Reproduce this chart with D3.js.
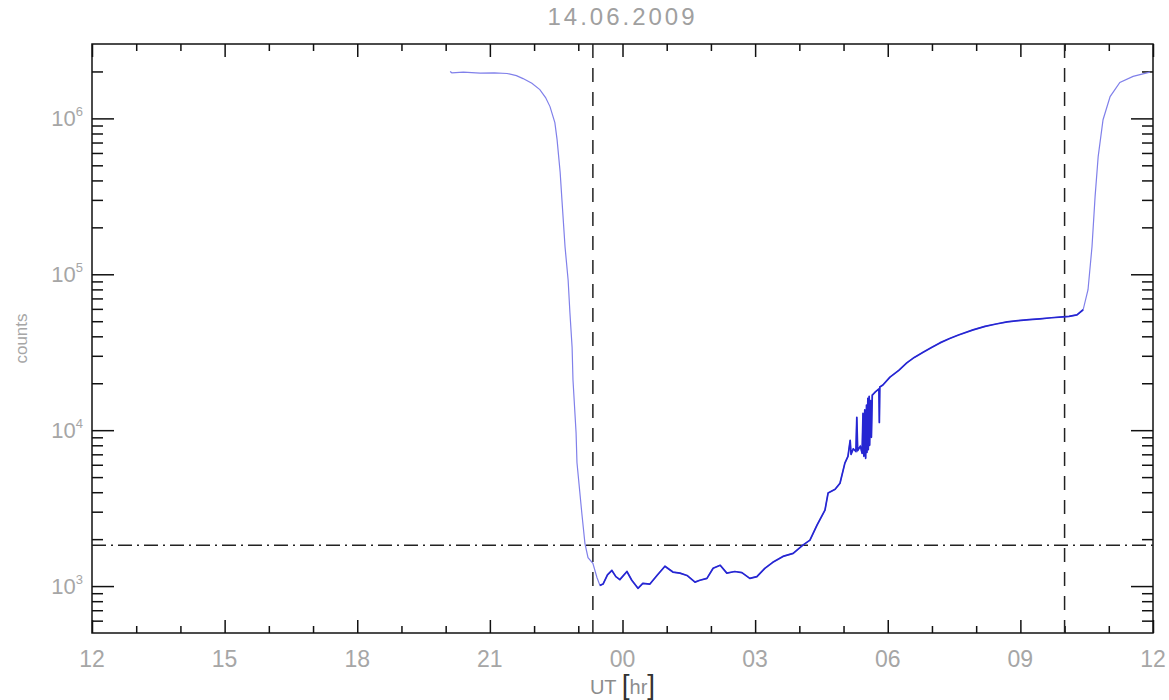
<!DOCTYPE html>
<html>
<head>
<meta charset="utf-8">
<script src="https://cdn.jsdelivr.net/npm/d3@7"></script>
<style>
  body { margin: 0; background: #fff; }
  text { font-family: "Liberation Sans", Arial, sans-serif; }
</style>
</head>
<body>
<div id="chart"></div>
<script>
// hours since 00:00 on 14.06 (values > 24 are next day)
var hours = [
    20.10, 20.14, 20.40, 20.78, 21.10, 21.39, 21.60, 21.75, 21.95, 22.13, 22.26, 22.36, 22.47, 22.52,
    22.59, 22.63, 22.70, 22.77, 22.81, 22.86, 22.88, 22.95, 22.97, 23.08, 23.15, 23.22, 23.33, 23.42,
    23.49, 23.56, 23.66, 23.76, 23.85, 23.94, 24.10, 24.21, 24.35, 24.46, 24.62, 24.78, 24.96, 25.14,
    25.30, 25.46, 25.64, 25.75, 25.91, 26.05, 26.21, 26.36, 26.54, 26.70, 26.88, 27.04, 27.22, 27.40,
    27.63, 27.86, 28.08, 28.24, 28.40, 28.58, 28.65, 28.81, 28.92, 29.03, 29.10, 29.15, 29.17, 29.22,
    29.28, 29.30, 29.32, 29.38, 29.42, 29.44, 29.46, 29.48, 29.50, 29.52, 29.53, 29.55, 29.56, 29.58,
    29.59, 29.61, 29.63, 29.65, 29.67, 29.72, 29.78, 29.80, 29.81, 29.82, 29.89, 30.05, 30.25, 30.43,
    30.60, 30.80, 31.00, 31.18, 31.40, 31.60, 31.93, 32.20, 32.45, 32.70, 32.95, 33.20, 33.44, 33.70,
    33.96, 34.10, 34.28, 34.42, 34.53, 34.62, 34.69, 34.76, 34.87, 35.03, 35.25, 35.55, 35.93
];
var counts = [
    2.00e6, 1.96e6, 1.98e6, 1.95e6, 1.96e6, 1.94e6, 1.88e6, 1.80e6, 1.68e6, 1.53e6, 1.36e6, 1.19e6, 9.4e5, 7.3e5,
    4.5e5, 3.0e5, 1.5e5, 9.2e4, 5.7e4, 3.4e4, 2.1e4, 9.6e3, 6.2e3, 2.93e3, 1.88e3, 1.52e3, 1.40e3, 1.14e3,
    1.01e3, 1.03e3, 1.18e3, 1.26e3, 1.15e3, 1.10e3, 1.24e3, 1.09e3, 967, 1.04e3, 1.03e3, 1.17e3, 1.34e3, 1.23e3,
    1.21e3, 1.17e3, 1.06e3, 1.09e3, 1.12e3, 1.30e3, 1.36e3, 1.21e3, 1.24e3, 1.22e3, 1.12e3, 1.15e3, 1.30e3, 1.42e3,
    1.55e3, 1.62e3, 1.83e3, 1.97e3, 2.46e3, 3.07e3, 3.95e3, 4.18e3, 4.57e3, 6.15e3, 6.80e3, 8.60e3, 7.00e3, 7.60e3,
    7.30e3, 1.21e4, 7.40e3, 7.90e3, 7.10e3, 1.28e4, 6.80e3, 1.35e4, 6.60e3, 1.45e4, 7.20e3, 1.60e4, 7.50e3, 1.65e4,
    8.00e3, 1.55e4, 9.00e3, 1.68e4, 1.70e4, 1.76e4, 1.82e4, 1.84e4, 1.12e4, 1.89e4, 1.95e4, 2.19e4, 2.42e4, 2.70e4,
    2.93e4, 3.16e4, 3.40e4, 3.63e4, 3.87e4, 4.08e4, 4.40e4, 4.63e4, 4.80e4, 4.95e4, 5.04e4, 5.12e4, 5.18e4, 5.26e4,
    5.33e4, 5.37e4, 5.49e4, 5.92e4, 7.96e4, 1.50e5, 3.15e5, 5.69e5, 9.8e5, 1.38e6, 1.70e6, 1.86e6, 1.98e6
];

var xTicksMajor = [12, 15, 18, 21, 24, 27, 30, 33, 36];
var xTickLabels = ["12", "15", "18", "21", "00", "03", "06", "09", "12"];
var yTicksMajor = [1e3, 1e4, 1e5, 1e6];
var yTickExp = ["3", "4", "5", "6"];
var thresholdCounts = 1830;      // dash-dot level
var markerHours = [23.33, 34.0];  // dashed verticals
var denseRange = [23.45, 34.45];  // part drawn darker/thicker

var options = {
    outerWidth: 1169, outerHeight: 700,
    margin: {left: 92, top: 44, right: 16, bottom: 67}
};
options.width = options.outerWidth - options.margin.left - options.margin.right;
options.height = options.outerHeight - options.margin.top - options.margin.bottom;

var svg = d3.select("#chart")
    .append("svg")
    .attr("width", options.outerWidth)
    .attr("height", options.outerHeight);

var g = svg.append("g")
    .attr("transform", "translate(" + options.margin.left + "," + options.margin.top + ")");

var x = d3.scaleLinear().domain([12, 36]).range([0, options.width]);
var y = d3.scaleLog().domain([500, 3e6]).range([options.height, 0]);

//minor ticks
var xTicksMinor = d3.range(12, 37, 1).filter(h => h % 3 !== 0);
var yTicksMinor = [];
[100, 1e3, 1e4, 1e5, 1e6].forEach(function (dec) {
    for (var k = 2; k <= 9; k++) {
        var v = k * dec;
        if (v > 500 && v < 3e6 && yTicksMajor.indexOf(v) < 0) yTicksMinor.push(v);
    }
});

function tickAxis(axis, tx, ty) {
    var a = g.append("g").attr("transform", "translate(" + tx + "," + ty + ")").call(axis);
    a.select(".domain").remove();
    a.selectAll("line").attr("stroke", "#111").attr("stroke-width", 1.5);
    a.selectAll("text").remove();
}

// ticks point inward on all four sides
tickAxis(d3.axisBottom(x).tickValues(xTicksMajor).tickSize(-13), 0, options.height);
tickAxis(d3.axisBottom(x).tickValues(xTicksMinor).tickSize(-7), 0, options.height);
tickAxis(d3.axisTop(x).tickValues(xTicksMajor).tickSize(-13), 0, 0);
tickAxis(d3.axisTop(x).tickValues(xTicksMinor).tickSize(-7), 0, 0);
tickAxis(d3.axisLeft(y).tickValues(yTicksMajor).tickSize(-22), 0, 0);
tickAxis(d3.axisLeft(y).tickValues(yTicksMinor).tickSize(-11), 0, 0);
tickAxis(d3.axisRight(y).tickValues(yTicksMajor).tickSize(-22), options.width, 0);
tickAxis(d3.axisRight(y).tickValues(yTicksMinor).tickSize(-11), options.width, 0);

// frame
g.append("rect")
    .attr("width", options.width)
    .attr("height", options.height)
    .attr("fill", "none")
    .attr("stroke", "#111")
    .attr("stroke-width", 1.5);

// reference lines
g.append("line")
    .attr("x1", 0).attr("x2", options.width)
    .attr("y1", y(thresholdCounts)).attr("y2", y(thresholdCounts))
    .attr("stroke", "#222").attr("stroke-width", 1.5)
    .attr("stroke-dasharray", "14,5,2,5");

g.selectAll(".marker")
    .data(markerHours)
    .enter().append("line")
    .attr("class", "marker")
    .attr("x1", d => x(d)).attr("x2", d => x(d))
    .attr("y1", 0).attr("y2", options.height)
    .attr("stroke", "#222").attr("stroke-width", 1.5)
    .attr("stroke-dasharray", "14,10");

var data = hours.map((h, i) => ({h: h, c: counts[i]}));
var line = d3.line().x(d => x(d.h)).y(d => y(d.c));

g.append("path")
    .datum(data)
    .attr("d", line)
    .attr("fill", "none")
    .attr("stroke", "#8080ea")
    .attr("stroke-width", 1.2);

g.append("path")
    .datum(data.filter(d => d.h >= denseRange[0] && d.h <= denseRange[1]))
    .attr("d", line)
    .attr("fill", "none")
    .attr("stroke", "#2626d2")
    .attr("stroke-width", 1.7)
    .attr("stroke-linejoin", "round");

// tick labels
g.selectAll(".xlab")
    .data(xTicksMajor)
    .enter().append("text")
    .attr("class", "xlab")
    .attr("x", d => x(d))
    .attr("y", options.height + 34)
    .attr("text-anchor", "middle")
    .attr("fill", "#a6a6a6")
    .style("font-size", "23px")
    .text((d, i) => xTickLabels[i]);

var ylab = g.selectAll(".ylab")
    .data(yTicksMajor)
    .enter().append("text")
    .attr("class", "ylab")
    .attr("x", -9)
    .attr("y", d => y(d) + 8)
    .attr("text-anchor", "end")
    .attr("fill", "#a6a6a6")
    .style("font-size", "22px");
ylab.append("tspan").text("10");
ylab.append("tspan")
    .attr("dy", -10)
    .style("font-size", "13px")
    .text((d, i) => yTickExp[i]);

// title and axis titles
svg.append("text")
    .attr("x", options.margin.left + options.width / 2)
    .attr("y", 25)
    .attr("text-anchor", "middle")
    .attr("fill", "#a0a0a0")
    .style("font-size", "24px")
    .style("letter-spacing", "3px")
    .text("14.06.2009");

svg.append("text")
    .attr("transform", "translate(27," + (options.margin.top + options.height / 2) + ") rotate(-90)")
    .attr("text-anchor", "middle")
    .attr("fill", "#a6a6a6")
    .style("font-size", "17px")
    .text("counts");

var xt = svg.append("text")
    .attr("x", options.margin.left + options.width / 2)
    .attr("y", 694)
    .attr("text-anchor", "middle")
    .attr("fill", "#8c8c8c")
    .style("font-size", "20px");
xt.append("tspan").text("UT ");
xt.append("tspan").attr("fill", "#333").style("font-size", "28px").text("[");
xt.append("tspan").text("hr");
xt.append("tspan").attr("fill", "#333").style("font-size", "28px").text("]");
</script>
</body>
</html>
